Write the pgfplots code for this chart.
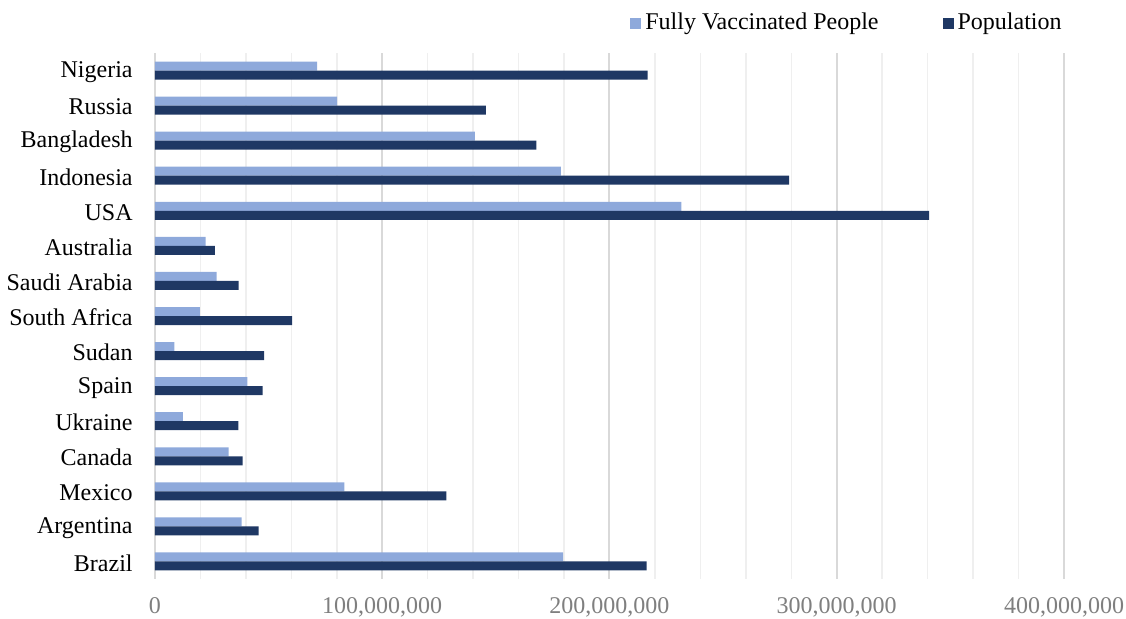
\documentclass[border=0pt,12pt]{standalone}
\usepackage{fontspec}
\setmainfont{Liberation Serif}
\usepackage{pgfplots}
\pgfplotsset{compat=1.18}
\usepackage{pgfplotstable}
\definecolor{lightbar}{HTML}{8EA9DB}
\definecolor{darkbar}{HTML}{1F3864}
\definecolor{majgrid}{HTML}{D9D9D9}
\definecolor{mingrid}{HTML}{EFEFEF}
\definecolor{ticktext}{HTML}{7F7F7F}

\pgfplotstableread{
idx vacc pop
0  71300000  216800000
1  80100000  145600000
2  140800000 167800000
3  178600000 279000000
4  231600000 340700000
5  22300000  26300000
6  27100000  36800000
7  19800000  60300000
8  8500000   48000000
9  40600000  47400000
10 12300000  36700000
11 32400000  38600000
12 83300000  128200000
13 38100000  45600000
14 179600000 216300000
}\datatable

\begin{document}
\begin{tikzpicture}
\begin{axis}[
  scale only axis,
  width=454.5pt, height=263pt,
  xbar, bar width=4.5pt,
  y dir=reverse,
  xmin=0, xmax=400000000,
  ymin=-0.5, ymax=14.5,
  ytick={0,...,14},
  yticklabels={Nigeria,Russia,Bangladesh,Indonesia,USA,Australia,Saudi Arabia,South Africa,Sudan,Spain,Ukraine,Canada,Mexico,Argentina,Brazil},
  xtick={0,100000000,200000000,300000000,400000000},
  minor x tick num=4,
  scaled x ticks=false,
  xticklabel style={/pgf/number format/fixed,/pgf/number format/1000 sep={,},/pgf/number format/assume math mode=true,text=ticktext,yshift=-5pt},
  yticklabel style={xshift=-7pt,yshift=-0.75pt},
  major tick length=0pt, minor tick length=0pt,
  xmajorgrids, xminorgrids,
  major grid style={majgrid,line width=1pt},
  minor grid style={mingrid,line width=0.8pt},
  axis line style={draw=none},
  legend columns=2,
  legend style={draw=none, at={(1.0088,1.057)}, anchor=east, fill=none,
    /tikz/every even column/.append style={column sep=30pt}},
  legend cell align=left,
]
\addplot[fill=lightbar, draw=none, bar shift=2.25pt,
  legend image code/.code={\fill[lightbar] (0pt,-2.75pt) rectangle (5.5pt,2.75pt);}]
  table[x=vacc,y=idx]{\datatable};
\addlegendentry{Fully Vaccinated People}
\addplot[fill=darkbar, draw=none, bar shift=-2.25pt,
  legend image code/.code={\fill[darkbar] (0pt,-2.75pt) rectangle (5.5pt,2.75pt);}]
  table[x=pop,y=idx]{\datatable};
\addlegendentry{Population}
\end{axis}
\pgfresetboundingbox
\path[use as bounding box] ([shift={(-77.5pt,-19.5pt)}]current axis.south west) rectangle ++(563pt,309pt);
\end{tikzpicture}
\end{document}
